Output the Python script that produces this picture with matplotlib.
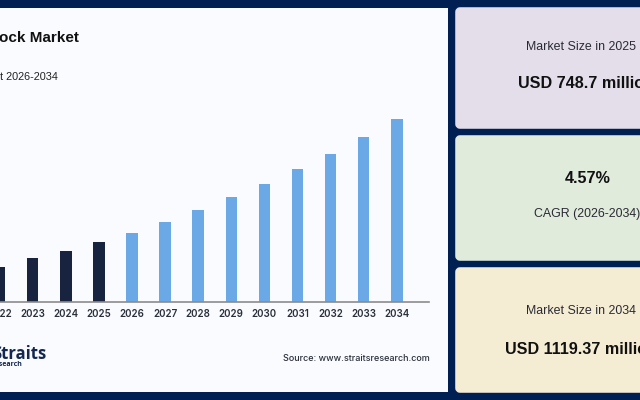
"""Market size bars with three summary cards (640x400)."""
import matplotlib

matplotlib.use("Agg")
from matplotlib import pyplot as plt
from matplotlib.patches import FancyBboxPatch, Rectangle

W, H = 640, 400
NAVY = "#001f52"

years = [2022, 2023, 2024, 2025, 2026, 2027, 2028, 2029, 2030, 2031, 2032, 2033, 2034]
# USD million (2025 and 2034 are printed on the cards)
sizes = [673, 700.5, 721.6, 748.7, 775.8, 809, 845, 884, 923, 968.5, 1013.6, 1065, 1119.37]
n_history = 4
bar_colors = ["#18233f"] * n_history + ["#6aa9e6"] * (len(years) - n_history)

card_labels = ["Market Size in 2025", "CAGR (2026-2034)", "Market Size in 2034"]
card_values = ["USD 748.7 million", "4.57%", "USD 1119.37 million"]

fig = plt.figure(figsize=(W / 100, H / 100), dpi=100, facecolor=NAVY)

# ---------- background layer in pixel coordinates ----------
bg = fig.add_axes([0, 0, 1, 1])
bg.set_xlim(0, W)
bg.set_ylim(H, 0)
bg.axis("off")
bg.add_patch(Rectangle((-10, 8), 457.5, 384, fc="#f9fbff", ec="none"))


def card(y0, y1, color):
    bg.add_patch(FancyBboxPatch((458, y0 + 2), 200, y1 - y0 - 4,
                                boxstyle="round,pad=0,rounding_size=2",
                                mutation_aspect=1, fc=color, ec=color, lw=4, joinstyle="round"))


card(8, 128, "#e3deea")
card(136, 260, "#e0ebdb")
card(268, 392, "#f5edd3")

bg.text(79, 37.5, "ock Market", ha="right", va="center", fontsize=11, fontweight="bold",
        family="Liberation Sans", color="#111111")
bg.text(58, 76.5, "t 2026-2034", ha="right", va="center", fontsize=7.8,
        family="Liberation Sans", color="#222222")
bg.text(46.5, 354, "Straits", ha="right", va="center", fontsize=12, fontweight="bold",
        family="Open Sans", color="#14284f")
bg.text(22, 364, "Research", ha="right", va="center", fontsize=5, fontweight="bold",
        family="Open Sans", color="#14284f")
bg.text(430, 358.5, "Source: www.straitsresearch.com", ha="right", va="center", fontsize=6.5,
        family="Inter", fontweight="medium", color="#2b2f3a")

bg.text(526.5, 46.5, card_labels[0], ha="left", va="center", fontsize=8.9,
        family="Liberation Sans", color="#2a2a35")
bg.text(517.5, 83.5, card_values[0], ha="left", va="center", fontsize=11.6, fontweight="bold",
        family="Liberation Sans", color="#111111")
bg.text(565, 178.5, card_values[1], ha="left", va="center", fontsize=11.6, fontweight="bold",
        family="Liberation Sans", color="#111111")
bg.text(533.5, 214.5, card_labels[1], ha="left", va="center", fontsize=8.9,
        family="Liberation Sans", color="#2a2a35")
bg.text(526.5, 311.5, card_labels[2], ha="left", va="center", fontsize=8.9,
        family="Liberation Sans", color="#2a2a35")
bg.text(505, 349.5, card_values[2], ha="left", va="center", fontsize=11.6, fontweight="bold",
        family="Liberation Sans", color="#111111")

# ---------- bars: axes run off the left edge, like the cropped original ----------
left_px, right_px, base_px, top_px = -30, 429, 301.5, 100
ax = fig.add_axes([left_px / W, 1 - base_px / H, (right_px - left_px) / W, (base_px - top_px) / H])
ax.patch.set_alpha(0)
px_per_year = 33.1
x_2026 = 132.0
ax.set_xlim(2026 + (left_px - x_2026) / px_per_year, 2026 + (right_px - x_2026) / px_per_year)
per_px = 3.01
ax.set_ylim(569.6, 569.6 + (base_px - top_px) * per_px)
ax.bar(years, sizes, width=11.5 / px_per_year, color=bar_colors, zorder=2)
ax.set_xticks(years)
ax.set_xticklabels([str(y) for y in years], family="Inter", fontsize=7, fontweight="semibold",
                   color="#2b2f3a")
ax.tick_params(axis="x", length=0, pad=5.5)
ax.set_yticks([])
for side in ("top", "left", "right"):
    ax.spines[side].set_visible(False)
ax.spines["bottom"].set_color("#8c8c8c")
ax.spines["bottom"].set_linewidth(1.2)

fig.savefig("out.png", dpi=100, facecolor=NAVY)
